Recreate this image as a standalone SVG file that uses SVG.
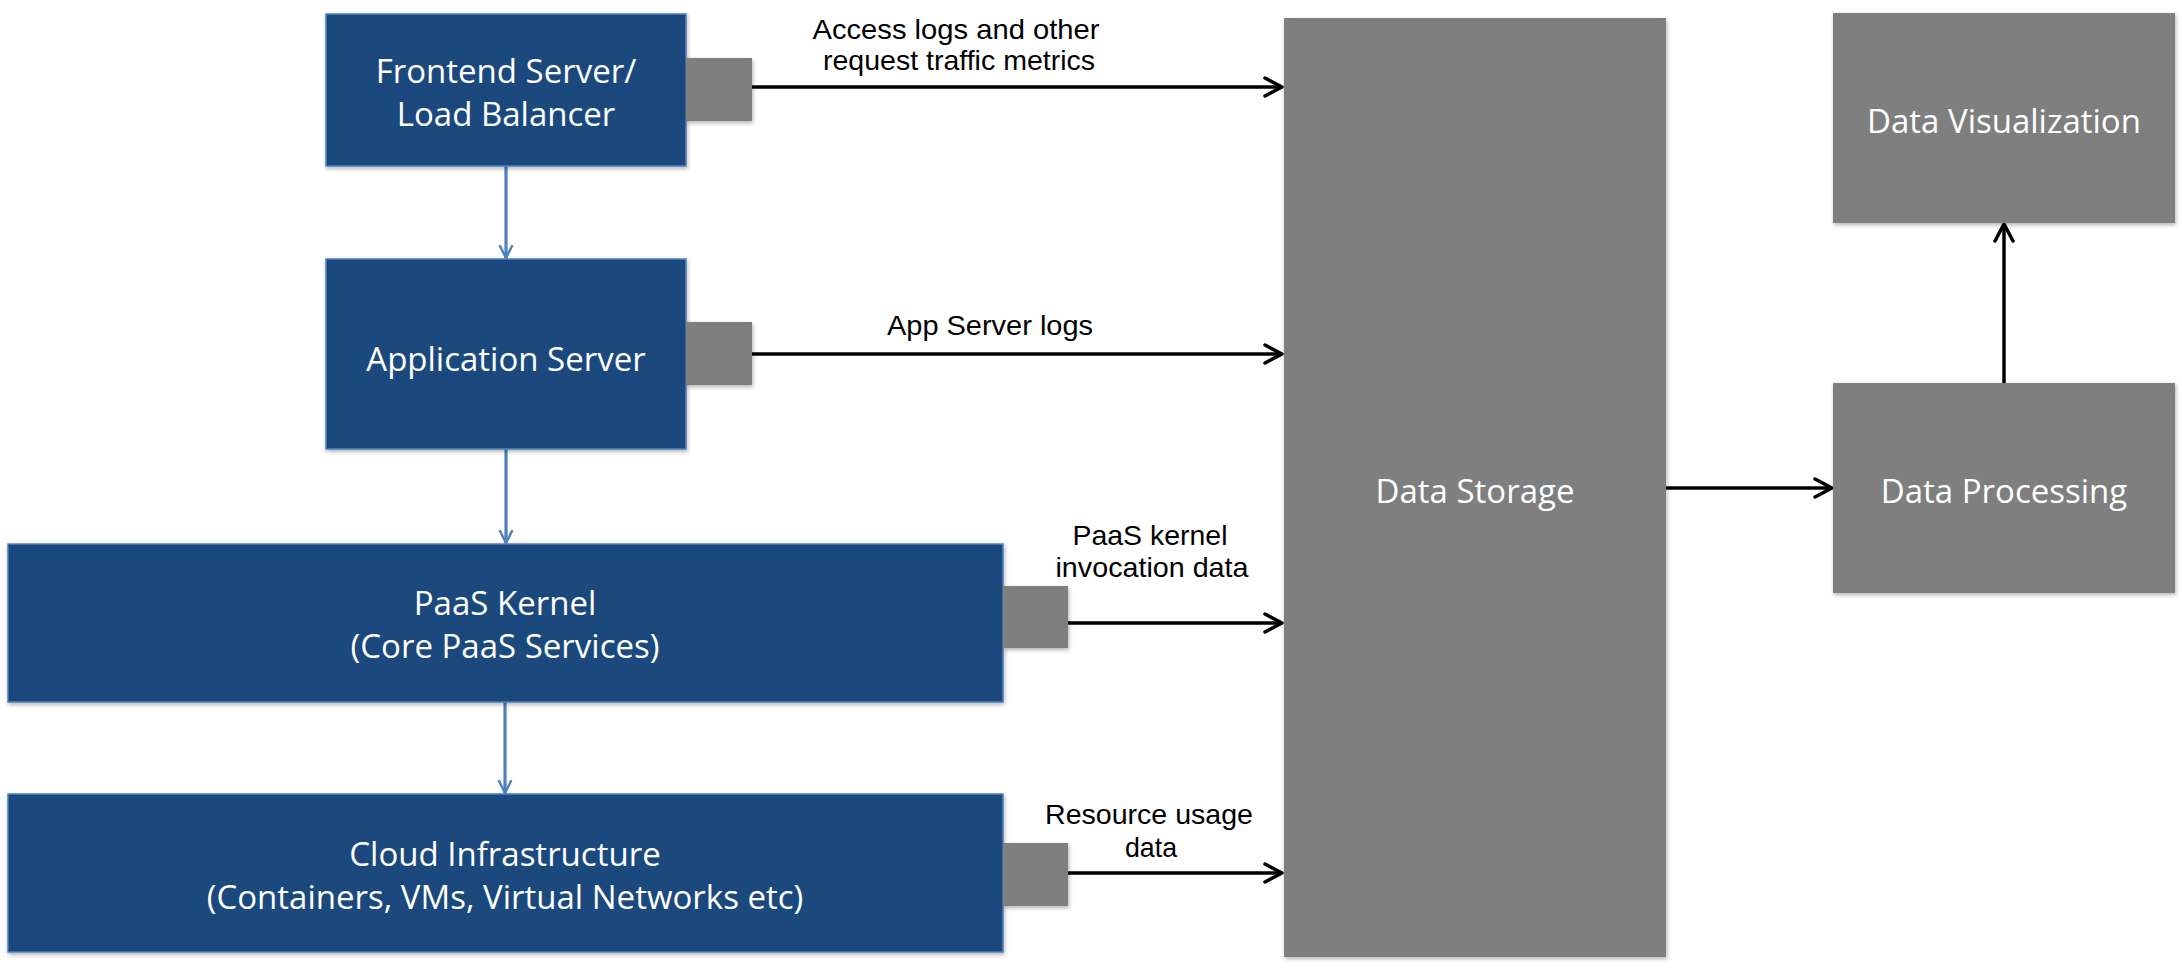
<svg xmlns="http://www.w3.org/2000/svg" width="2182" height="969" viewBox="0 0 2182 969">
<style>
.bg{fill:#ffffff}
.blue{fill:#1f497d;stroke:#4f81bd;stroke-width:1.5;filter:url(#sh)}
.gray{fill:#7f7f7f;filter:url(#sh)}
.nt{font-family:"Open Sans","Noto Sans",sans-serif;font-size:33px;fill:#ffffff;text-anchor:middle}
.lt{font-family:"Liberation Sans",Arial,sans-serif;font-size:28px;fill:#000000;text-anchor:middle}
.blk{stroke:#000000;stroke-width:3.5;fill:none;marker-end:url(#ah)}
.bl{stroke:#4f81bd;stroke-width:3.2;fill:none;marker-end:url(#bh)}
</style>
<defs>
<filter id="sh" x="-10%" y="-10%" width="120%" height="130%">
<feDropShadow dx="1" dy="2" stdDeviation="2" flood-color="#000000" flood-opacity="0.3"/>
</filter>
<marker id="ah" markerUnits="userSpaceOnUse" viewBox="0 0 22 22" refX="20" refY="11" markerWidth="22" markerHeight="22" orient="auto">
<path d="M3,2 L20,11 L3,20" fill="none" stroke="#000000" stroke-width="3.5" stroke-linecap="round" stroke-linejoin="round"/>
</marker>
<marker id="bh" markerUnits="userSpaceOnUse" viewBox="0 0 16 16" refX="14" refY="8" markerWidth="16" markerHeight="16" orient="auto">
<path d="M2,2 L14,8 L2,14" fill="none" stroke="#4f81bd" stroke-width="2.5" stroke-linecap="round" stroke-linejoin="round"/>
</marker>
</defs>
<rect class="bg" x="0" y="0" width="2182" height="969"/>

<g id="connectors">
<line class="bl" x1="506" y1="166" x2="506" y2="258"/>
<line class="bl" x1="506" y1="449" x2="506" y2="543"/>
<line class="bl" x1="505" y1="702" x2="505" y2="793"/>
<line class="blk" x1="752" y1="87" x2="1282" y2="87"/>
<line class="blk" x1="752" y1="354" x2="1282" y2="354"/>
<line class="blk" x1="1068" y1="623" x2="1282" y2="623"/>
<line class="blk" x1="1068" y1="873" x2="1282" y2="873"/>
<line class="blk" x1="1666" y1="488" x2="1832" y2="488"/>
<line class="blk" x1="2004" y1="383" x2="2004" y2="224"/>
<text class="lt" x="956" y="39" textLength="287" lengthAdjust="spacingAndGlyphs">Access logs and other</text>
<text class="lt" x="959" y="70" textLength="272" lengthAdjust="spacingAndGlyphs">request traffic metrics</text>
<text class="lt" x="990" y="335" textLength="206" lengthAdjust="spacingAndGlyphs">App Server logs</text>
<text class="lt" x="1150" y="545" textLength="155" lengthAdjust="spacingAndGlyphs">PaaS kernel</text>
<text class="lt" x="1152" y="577" textLength="193" lengthAdjust="spacingAndGlyphs">invocation data</text>
<text class="lt" x="1149" y="824" textLength="208" lengthAdjust="spacingAndGlyphs">Resource usage</text>
<text class="lt" x="1151" y="857" textLength="52" lengthAdjust="spacingAndGlyphs">data</text>
</g>

<g id="frontend">
<rect class="blue" x="326" y="14" width="360" height="152"/>
<text class="nt" x="506" y="83">Frontend Server/</text>
<text class="nt" x="506" y="126">Load Balancer</text>
<rect class="gray" x="686" y="58" width="66" height="63"/>
</g>

<g id="appserver">
<rect class="blue" x="326" y="259" width="360" height="190"/>
<text class="nt" x="506" y="371">Application Server</text>
<rect class="gray" x="686" y="322" width="66" height="63"/>
</g>

<g id="paaskernel">
<rect class="blue" x="8" y="544" width="995" height="158"/>
<text class="nt" x="505" y="615">PaaS Kernel</text>
<text class="nt" x="505" y="658">(Core PaaS Services)</text>
<rect class="gray" x="1003" y="586" width="65" height="62"/>
</g>

<g id="cloud">
<rect class="blue" x="8" y="794" width="995" height="158"/>
<text class="nt" x="505" y="866">Cloud Infrastructure</text>
<text class="nt" x="505" y="909">(Containers, VMs, Virtual Networks etc)</text>
<rect class="gray" x="1003" y="843" width="65" height="63"/>
</g>

<g id="datastorage">
<rect class="gray" x="1284" y="18" width="382" height="939"/>
<text class="nt" x="1475" y="503">Data Storage</text>
</g>

<g id="dataprocessing">
<rect class="gray" x="1833" y="383" width="342" height="210"/>
<text class="nt" x="2004" y="503">Data Processing</text>
</g>

<g id="datavisualization">
<rect class="gray" x="1833" y="13" width="342" height="210"/>
<text class="nt" x="2004" y="133">Data Visualization</text>
</g>
</svg>
